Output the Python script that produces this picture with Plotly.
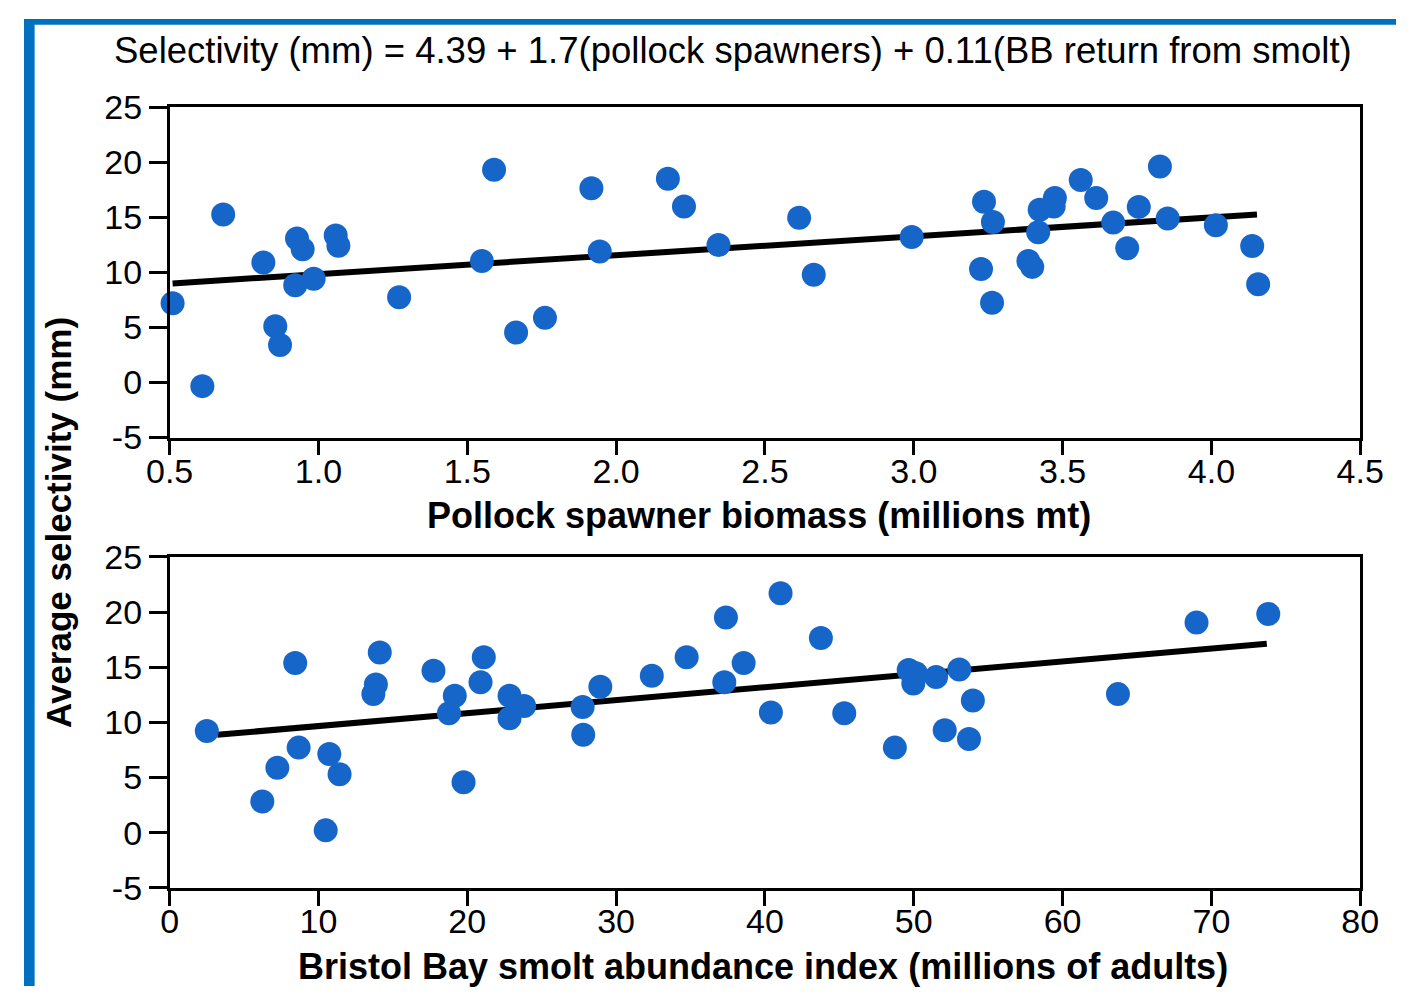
import plotly.graph_objects as go

# ---- Top panel: pollock spawner biomass ----
pollock_x = [0.51, 0.61, 0.68, 0.815, 0.855, 0.871, 0.928, 0.947, 0.922, 0.984,
             1.058, 1.067, 1.271, 1.549, 1.590, 1.664, 1.761, 1.917, 1.945, 2.174,
             2.228, 2.344, 2.615, 2.664, 2.993, 3.236, 3.226, 3.266, 3.263, 3.385,
             3.398, 3.418, 3.423, 3.474, 3.470, 3.561, 3.613, 3.670, 3.717, 3.756,
             3.827, 3.853, 4.015, 4.137, 4.157]
pollock_y = [7.2, -0.33, 15.25, 10.9, 5.1, 3.4, 13.07, 12.1, 8.84, 9.43,
             13.36, 12.42, 7.74, 11.03, 19.32, 4.54, 5.87, 17.64, 11.9, 18.51,
             15.98, 12.48, 14.96, 9.78, 13.21, 16.41, 10.3, 14.58, 7.24, 11.03,
             10.5, 13.65, 15.69, 16.76, 15.98, 18.4, 16.76, 14.52, 12.2, 15.95,
             19.62, 14.9, 14.29, 12.4, 8.93]
pollock_fit_x = [0.51, 4.153]
pollock_fit_y = [9.0, 15.25]

# ---- Bottom panel: Bristol Bay smolt abundance ----
smolt_x = [2.5, 6.23, 7.24, 8.44, 8.67, 10.49, 10.73, 11.42, 13.69, 13.86,
           14.12, 17.73, 18.77, 19.16, 19.75, 20.89, 21.11, 22.84, 22.84, 23.82,
           27.75, 27.79, 28.94, 32.4, 34.74, 37.27, 37.38, 38.57, 40.4, 41.05,
           43.76, 45.33, 48.73, 49.66, 49.97, 50.14, 51.5, 52.08, 53.06, 53.71,
           53.97, 63.72, 69.0, 73.82]
smolt_y = [9.22, 2.83, 5.88, 15.38, 7.71, 0.21, 7.13, 5.3, 12.56, 13.43,
           16.34, 14.68, 10.82, 12.42, 4.57, 13.64, 15.9, 12.42, 10.38, 11.49,
           11.4, 8.87, 13.23, 14.22, 15.9, 13.64, 19.51, 15.38, 10.9, 21.71,
           17.65, 10.82, 7.71, 14.74, 13.52, 14.45, 14.1, 9.28, 14.8, 8.5,
           11.98, 12.56, 19.05, 19.83]
smolt_fit_x = [3.2, 73.72]
smolt_fit_y = [8.87, 17.13]

title_text = "Selectivity (mm) = 4.39 + 1.7(pollock spawners) + 0.11(BB return from smolt)"
xtitle_top = "Pollock spawner biomass (millions mt)"
xtitle_bottom = "Bristol Bay smolt abundance index (millions of adults)"
ytitle = "Average selectivity (mm)"
y_ticks = [-5, 0, 5, 10, 15, 20, 25]
x_ticks_top = [0.5, 1.0, 1.5, 2.0, 2.5, 3.0, 3.5, 4.0, 4.5]
x_ticks_bottom = [0, 10, 20, 30, 40, 50, 60, 70, 80]

W, H = 1420, 1005
FONT = "Liberation Sans, Arial, Helvetica, sans-serif"
DOT = "#1666CA"

fig = go.Figure()
marker = dict(color=DOT, size=24, line=dict(width=0))
fig.add_trace(go.Scatter(x=pollock_fit_x, y=pollock_fit_y, mode="lines",
                         line=dict(color="black", width=6), xaxis="x", yaxis="y", showlegend=False))
fig.add_trace(go.Scatter(x=pollock_x, y=pollock_y, mode="markers", marker=marker,
                         xaxis="x", yaxis="y", showlegend=False, cliponaxis=False))
fig.add_trace(go.Scatter(x=smolt_fit_x, y=smolt_fit_y, mode="lines",
                         line=dict(color="black", width=6), xaxis="x2", yaxis="y2", showlegend=False))
fig.add_trace(go.Scatter(x=smolt_x, y=smolt_y, mode="markers", marker=marker,
                         xaxis="x2", yaxis="y2", showlegend=False, cliponaxis=False))

xdom = [150.7 / W, 1383 / W]
top_dom = [(H - 435) / H, (H - 91.7) / H]
bot_dom = [(H - 903) / H, (H - 559) / H]

tickfont = dict(family=FONT, size=34, color="black")
common_x = dict(showline=True, linecolor="black", linewidth=2.5, mirror=True,
                ticks="outside", ticklen=15, tickwidth=2.5, tickcolor="black",
                showgrid=False, zeroline=False, tickfont=tickfont, domain=xdom,
                ticklabelstandoff=-13)
common_y = dict(showline=True, linecolor="black", linewidth=2.5, mirror=True,
                ticks="outside", ticklen=18, tickwidth=2.5, tickcolor="black",
                showgrid=False, zeroline=False, tickfont=tickfont,
                range=[-5, 25], tickvals=y_ticks, ticktext=[str(v) for v in y_ticks])

fig.update_layout(
    width=W, height=H,
    margin=dict(l=0, r=0, t=0, b=0),
    paper_bgcolor="white", plot_bgcolor="white",
    xaxis=dict(common_x, range=[0.5, 4.5], tickvals=x_ticks_top,
               ticktext=[f"{v:.1f}" for v in x_ticks_top], anchor="y"),
    yaxis=dict(common_y, domain=top_dom, anchor="x"),
    xaxis2=dict(common_x, range=[0, 80], tickvals=x_ticks_bottom,
                ticktext=[str(v) for v in x_ticks_bottom], anchor="y2"),
    yaxis2=dict(common_y, domain=bot_dom, anchor="x2"),
    shapes=[
        dict(type="rect", xref="paper", yref="paper", x0=0, x1=11 / W, y0=0, y1=1,
             fillcolor="#0070C0", line=dict(width=0), layer="above"),
        dict(type="rect", xref="paper", yref="paper", x0=0, x1=1, y0=1 - 6 / H, y1=1,
             fillcolor="#0070C0", line=dict(width=0), layer="above"),
    ],
    annotations=[
        dict(text=title_text, xref="paper", yref="paper", x=734 / W, y=1 - 33 / H,
             showarrow=False, xanchor="center", yanchor="middle",
             font=dict(family=FONT, size=36.5, color="black")),
        dict(text=f"<b>{xtitle_top}</b>", xref="paper", yref="paper", x=761 / W, y=1 - 516 / H,
             showarrow=False, xanchor="center", yanchor="middle",
             font=dict(family=FONT, size=36, color="black")),
        dict(text=f"<b>{xtitle_bottom}</b>", xref="paper", yref="paper", x=765 / W, y=1 - 985 / H,
             showarrow=False, xanchor="center", yanchor="middle",
             font=dict(family=FONT, size=36, color="black")),
        dict(text=f"<b>{ytitle}</b>", xref="paper", yref="paper", x=35 / W, y=1 - 523 / H,
             showarrow=False, xanchor="center", yanchor="middle", textangle=-90,
             font=dict(family=FONT, size=35, color="black")),
    ],
)

fig.write_html("out.html")
